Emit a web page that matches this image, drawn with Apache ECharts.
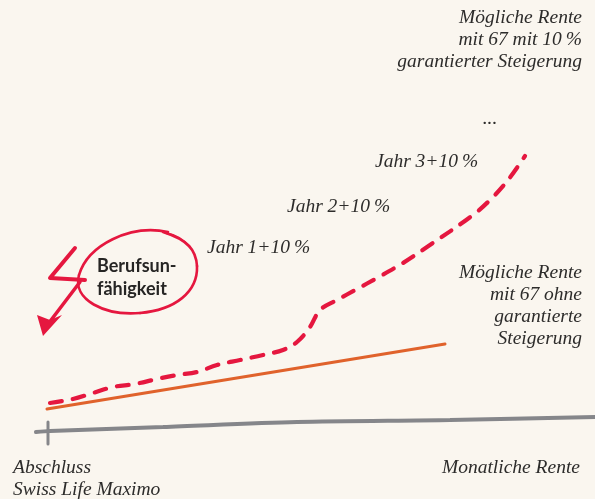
<!DOCTYPE html>
<html>
<head>
<meta charset="utf-8">
<title>Mögliche Rente</title>
<script src="https://cdn.jsdelivr.net/npm/echarts@6/dist/echarts.min.js"></script>
<style>
  html, body { margin: 0; padding: 0; background: #faf6ef; }
  #chart { width: 595px; height: 499px; }
</style>
</head>
<body>
<div id="chart"></div>
<script>
// Zeitachse (Abschluss -> Rentenbeginn), Werte in Bildeinheiten
const baseX = [36, 50, 163, 297, 450, 595];
const baseY = [67, 68, 72, 77, 79, 82];
const tickX = [48, 48];
const tickY = [77, 55];
// Rente ohne garantierte Steigerung
const flatX = [47, 445];
const flatY = [90, 155];
// Rente mit 10% garantierter Steigerung
const garX = [50, 73, 93, 113, 135, 157, 177, 197, 217, 240, 263, 283, 297, 310, 320, 337, 357, 377, 403, 427, 473, 492, 508, 525];
const garY = [96, 100, 106, 112, 115, 120, 124, 127, 134, 139, 144, 149, 157, 172, 189, 199, 210, 221, 236, 252, 284, 301, 319, 343];

const labelsTop = ['Mögliche Rente', 'mit 67 mit 10\u2009%', 'garantierter Steigerung'];
const labelsFlat = ['Mögliche Rente', 'mit 67 ohne', 'garantierte', 'Steigerung'];
const yearLabels = ['Jahr 1+10\u2009%', 'Jahr 2+10\u2009%', 'Jahr 3+10\u2009%'];
const startLabel = ['Abschluss', 'Swiss Life Maximo'];
const axisLabel = 'Monatliche Rente';
const bu = ['Berufsun-', 'fähigkeit'];

function pairs(xs, ys){
	return xs.map((x,i)=>[x, ys[i]]);
}

const serif = 'italic 19.5px "Liberation Serif", serif';
const ink = '#2d2c2b';
const red = '#e5173f';

function txt(text, x, y, align){
	return {
		type: 'text',
		silent: true,
		style: {
			text: text,
			x: x,
			y: y,
			font: serif,
			fill: ink,
			align: align,
			verticalAlign: 'top',
			lineHeight: 22
		}
	};
}

function curve(x1,y1,cx1,cy1,cx2,cy2,x2,y2,w){
	return {
		type: 'bezierCurve',
		silent: true,
		shape: {x1:x1, y1:y1, cpx1:cx1, cpy1:cy1, cpx2:cx2, cpy2:cy2, x2:x2, y2:y2},
		style: {stroke: red, lineWidth: w || 2.6, fill: null, lineCap: 'round'}
	};
}

const myChart = echarts.init(document.getElementById('chart'), null, {renderer: 'canvas'});

const option = {
	backgroundColor: '#faf6ef',
	animation: false,
	grid: {left: 0, right: 0, top: 0, bottom: 0},
	xAxis: {type: 'value', min: 0, max: 595, show: false},
	yAxis: {type: 'value', min: 0, max: 499, show: false},
	series: [
		{
			type: 'line',
			data: pairs(baseX, baseY),
			smooth: 0.3,
			showSymbol: false,
			lineStyle: {color: '#85868a', width: 4, cap: 'round'}
		},
		{
			type: 'line',
			data: pairs(tickX, tickY),
			showSymbol: false,
			lineStyle: {color: '#85868a', width: 3, cap: 'round'}
		},
		{
			type: 'line',
			data: pairs(flatX, flatY),
			showSymbol: false,
			lineStyle: {color: '#e0622b', width: 3, cap: 'round'}
		},
		{
			type: 'line',
			data: pairs(garX, garY),
			smooth: 0.35,
			showSymbol: false,
			lineStyle: {color: red, width: 4.2, type: [12, 11], cap: 'round'}
		}
	],
	graphic: [
		txt(labelsTop.join('\n'), 582, 7, 'right'),
		txt('...', 490, 108, 'center'),
		txt(yearLabels[2], 375, 151, 'left'),
		txt(yearLabels[1], 287, 196, 'left'),
		txt(yearLabels[0], 207, 237, 'left'),
		txt(labelsFlat.join('\n'), 582, 262, 'right'),
		txt(startLabel.join('\n'), 13, 457, 'left'),
		txt(axisLabel, 580, 457, 'right'),
		{
			type: 'text',
			silent: true,
			style: {
				text: bu.join('\n'),
				x: 97, y: 255,
				font: 'bold 18px Lato, sans-serif',
				fill: '#262524',
				align: 'left',
				verticalAlign: 'top',
				lineHeight: 23
			}
		},
		// Kreis
		curve(168,232, 130,224, 88,245, 79,275),
		curve(79,275, 72,300, 105,316, 140,313),
		curve(140,313, 175,310, 198,292, 197,266),
		curve(197,266, 196,250, 188,240, 163,232),
		curve(166,233, 176,235, 184,240, 190,247, 2.2),
		// Blitz-Pfeil
		{
			type: 'polyline',
			silent: true,
			shape: {points: [[75,248],[50,278],[85,280]]},
			style: {stroke: red, lineWidth: 4, fill: null, lineJoin: 'round', lineCap: 'round'}
		},
		{
			type: 'line',
			silent: true,
			shape: {x1: 80, y1: 282, x2: 45, y2: 328},
			style: {stroke: red, lineWidth: 3.5, lineCap: 'round'}
		},
		{
			type: 'polygon',
			silent: true,
			shape: {points: [[37,315],[50,320],[62,315],[43,336]]},
			style: {fill: red}
		}
	]
};

myChart.setOption(option);
</script>
</body>
</html>
